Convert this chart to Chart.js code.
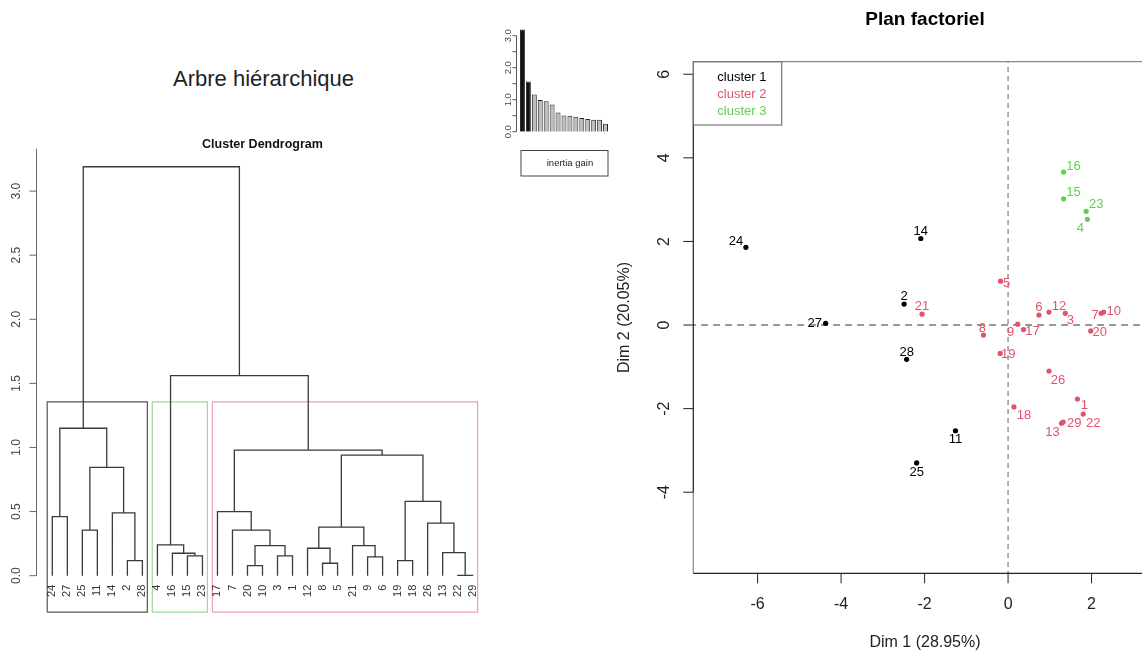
<!DOCTYPE html>
<html>
<head>
<meta charset="utf-8">
<script src="https://cdn.jsdelivr.net/npm/chart.js@4.4.0/dist/chart.umd.min.js"></script>
<style>
  html, body { margin: 0; padding: 0; background: #fff; overflow: hidden; }
  #page { position: relative; width: 1142px; height: 654px; overflow: hidden;
          font-family: "Liberation Sans", Arial, sans-serif; }
  canvas { position: absolute; }
  #arbre { position: absolute; left: 0; width: 527px; top: 66px; text-align: center;
           font-size: 22px; line-height: 26px; color: #222; }
</style>
</head>
<body>
<div id="page">
  <div id="arbre">Arbre hiérarchique</div>
  <canvas id="dendro" width="500" height="500" style="left:0;top:130px"></canvas>
  <canvas id="gain" width="150" height="190" style="left:480px;top:0"></canvas>
  <canvas id="plan" width="600" height="654" style="left:580px;top:0"></canvas>
</div>
<script>
const FONT = '"Liberation Sans", Arial, sans-serif';

// ---- dendrogram (hclust style: negative = individual, positive = earlier merge)
const leafOrder = [24, 27, 25, 11, 14, 2, 28, 4, 16, 15, 23, 17, 7, 20, 10, 3, 1, 12, 8, 5, 21, 9, 6, 19, 18, 26, 13, 22, 29];
const mergeLeft = [-22, -20, -8, -2, -19, -9, -3, -15, -16, -13, -12, 2, -21, -4, -25, -7, 11, -26, -24, -14, -17, 5, 15, 17, 21, 19, 14, 26];
const mergeRight = [-29, -10, -5, -28, -18, -6, -1, -23, 8, 1, 3, 7, 6, 9, -11, 12, 13, 10, -27, 4, 16, 18, 20, 22, 24, 23, 25, 27];
const mergeHeight = [0.003, 0.078, 0.097, 0.117, 0.117, 0.146, 0.154, 0.154, 0.175, 0.18, 0.214, 0.234, 0.234, 0.24,
  0.356, 0.356, 0.378, 0.41, 0.46, 0.49, 0.50, 0.58, 0.845, 0.94, 0.98, 1.15, 1.56, 3.19];
const clusterSizes = [7, 4, 18];
const dendroTicks = [0, 0.5, 1, 1.5, 2, 2.5, 3];

// ---- inertia gain bars
const gainLabels = ["1", "2", "3", "4", "5", "6", "7", "8", "9", "10", "11", "12", "13", "14", "15"];
const inertiaGain = [3.19, 1.57, 1.16, 0.99, 0.95, 0.85, 0.6, 0.51, 0.5, 0.47, 0.43, 0.4, 0.37, 0.37, 0.25];
const gainTicks = [0, 0.5, 1, 1.5, 2, 2.5, 3];
const gainTickLabels = ["0.0", "", "1.0", "", "2.0", "", "3.0"];

// ---- factor map
const clusterNames = ["cluster 1", "cluster 2", "cluster 3"];
const cluster1Ids = [2, 11, 14, 24, 25, 27, 28];
const cluster1Dim1 = [-2.49, -1.26, -2.09, -6.28, -2.19, -4.37, -2.43];
const cluster1Dim2 = [0.50, -2.53, 2.07, 1.86, -3.30, 0.04, -0.82];
const cluster2Ids = [1, 3, 5, 6, 7, 8, 9, 10, 12, 13, 17, 18, 19, 20, 21, 22, 26, 29];
const cluster2Dim1 = [1.66, 1.37, -0.18, 0.74, 2.23, -0.59, 0.23, 2.29, 0.98, 1.28, 0.37, 0.14, -0.19, 1.98, -2.06, 1.80, 0.98, 1.32];
const cluster2Dim2 = [-1.77, 0.28, 1.05, 0.24, 0.28, -0.24, 0.02, 0.31, 0.31, -2.35, -0.11, -1.96, -0.68, -0.14, 0.26, -2.13, -1.10, -2.32];
const cluster3Ids = [4, 15, 16, 23];
const cluster3Dim1 = [1.90, 1.33, 1.33, 1.87];
const cluster3Dim2 = [2.53, 3.02, 3.66, 2.72];
const dim1Ticks = [-6, -4, -2, 0, 2];
const dim2Ticks = [-4, -2, 0, 2, 4, 6];

const clusterColors = ["#000000", "#DF536B", "#61D04F"];

// label placement around each point (px), like R's autoLab result
const labelOffset = {
  24: [-10, -6], 27: [-11, 0], 14: [0, -7], 2: [0, -8], 28: [0, -7], 11: [0, 9], 25: [0, 9],
  16: [10, -6], 15: [10, -6], 23: [10, -7], 4: [-7, 9],
  5: [6, 2], 21: [0, -8], 6: [0, -8], 12: [10, -6], 3: [5, 7], 7: [-6, 2], 10: [10, -1],
  20: [9, 2], 8: [-1, -7], 9: [-7, 8], 17: [9, 2], 19: [8, 1], 26: [9, 9], 18: [10, 8],
  1: [7, 6], 22: [10, 9], 29: [11, 1], 13: [-9, 9],
};

function vtext(ctx, txt, x, y, align) {
  ctx.save();
  ctx.translate(x, y);
  ctx.rotate(-Math.PI / 2);
  ctx.textAlign = align || "center";
  ctx.textBaseline = "middle";
  ctx.fillText(txt, 0, 0);
  ctx.restore();
}

function line(ctx, x1, y1, x2, y2) {
  ctx.beginPath();
  ctx.moveTo(x1, y1);
  ctx.lineTo(x2, y2);
  ctx.stroke();
}

const baseOptions = {
  responsive: false,
  animation: false,
  events: [],
  plugins: { legend: { display: false }, tooltip: { enabled: false } },
};

// ================= dendrogram =================
const leafPos = {};
leafOrder.forEach((id, i) => (leafPos[id] = i + 1));
const nodeX = [];
const nodeY = [];
function childPos(c) {
  return c < 0 ? { x: leafPos[-c], y: 0 } : { x: nodeX[c - 1], y: nodeY[c - 1] };
}
const segs = [];
mergeLeft.forEach((l, i) => {
  const a = childPos(l);
  const b = childPos(mergeRight[i]);
  const h = mergeHeight[i];
  nodeX[i] = (a.x + b.x) / 2;
  nodeY[i] = h;
  segs.push({ x: a.x, y: a.y }, { x: a.x, y: h }, { x: b.x, y: h }, { x: b.x, y: b.y }, { x: b.x, y: null });
});

const dendroMin = -0.285;
const sortedH = mergeHeight.slice().sort((a, b) => b - a);
const k = clusterSizes.length;
const rectTop = (sortedH[k - 2] + sortedH[k - 1]) / 2;
const rectColors = ["#555555", "#9fdc96", "#ef9dab"];
let start = 0;
const rectSets = clusterSizes.map((n, i) => {
  const x0 = start + 0.66;
  const x1 = start + n + 0.33;
  start += n;
  return {
    data: [{ x: x0, y: dendroMin }, { x: x0, y: rectTop }, { x: x1, y: rectTop }, { x: x1, y: dendroMin }, { x: x0, y: dendroMin }],
    showLine: true, borderColor: rectColors[i], borderWidth: 1.2, pointRadius: 0, clip: false,
  };
});

const dendroDecor = {
  id: "dendroDecor",
  afterDraw(chart) {
    const { ctx, chartArea } = chart;
    const xs = chart.scales.x;
    const ys = chart.scales.y;
    const left = chartArea.left + 1;
    ctx.save();
    ctx.strokeStyle = "#666";
    ctx.lineWidth = 1;
    line(ctx, left, ys.getPixelForValue(0), left, chartArea.top);
    ctx.fillStyle = "#444";
    ctx.font = "12px " + FONT;
    ys.ticks.forEach((t) => {
      const py = ys.getPixelForValue(t.value);
      line(ctx, left - 7, py, left, py);
      vtext(ctx, t.value.toFixed(1), 16.5, py);
    });
    ctx.fillStyle = "#333";
    ctx.font = "11px " + FONT;
    leafOrder.forEach((id, i) => {
      vtext(ctx, String(id), xs.getPixelForValue(i + 1), ys.getPixelForValue(0) + 9, "right");
    });
    ctx.fillStyle = "#111";
    ctx.font = "bold 12.5px " + FONT;
    ctx.textAlign = "center";
    ctx.textBaseline = "middle";
    ctx.fillText("Cluster Dendrogram", (chartArea.left + chartArea.right) / 2, 15);
    ctx.restore();
  },
};

new Chart(document.getElementById("dendro"), {
  type: "scatter",
  data: {
    datasets: [
      { data: segs, showLine: true, spanGaps: false, borderColor: "#3a3a3a", borderWidth: 1.3, pointRadius: 0, clip: false },
      ...rectSets,
    ],
  },
  options: {
    ...baseOptions,
    layout: { padding: { left: 35.5, right: 10.5, top: 18.8, bottom: 17.8 } },
    scales: {
      x: { type: "linear", display: false, min: -0.12, max: 30.12 },
      y: {
        type: "linear", display: false, min: dendroMin, max: 3.33,
        afterBuildTicks: (s) => { s.ticks = dendroTicks.map((v) => ({ value: v })); },
      },
    },
  },
  plugins: [dendroDecor],
});

// ================= inertia gain =================
const gainDecor = {
  id: "gainDecor",
  afterDraw(chart) {
    const { ctx, chartArea } = chart;
    const ys = chart.scales.y;
    const ax = chartArea.left - 3;
    ctx.save();
    ctx.strokeStyle = "#555";
    ctx.lineWidth = 1;
    line(ctx, ax, ys.getPixelForValue(0), ax, ys.getPixelForValue(3));
    ctx.fillStyle = "#444";
    ctx.font = "9.5px " + FONT;
    ys.ticks.forEach((t, i) => {
      const py = ys.getPixelForValue(t.value);
      line(ctx, ax - 4, py, ax, py);
      if (gainTickLabels[i]) vtext(ctx, gainTickLabels[i], 28, py);
    });
    ctx.strokeStyle = "#444";
    ctx.strokeRect(41, 150.5, 87, 25.5);
    ctx.fillStyle = "#222";
    ctx.textAlign = "center";
    ctx.textBaseline = "middle";
    ctx.fillText("inertia gain", 90, 163.5);
    ctx.restore();
  },
};

new Chart(document.getElementById("gain"), {
  type: "bar",
  data: {
    labels: gainLabels,
    datasets: [{
      data: inertiaGain,
      backgroundColor: inertiaGain.map((v, i) => (i < k - 1 ? "#111111" : "#bebebe")),
      borderColor: "#2a2a2a",
      borderWidth: 1,
      barPercentage: 0.833,
      categoryPercentage: 1,
    }],
  },
  options: {
    ...baseOptions,
    layout: { padding: { left: 39.5, right: 21.5, top: 26.1, bottom: 58.3 } },
    scales: {
      x: { display: false },
      y: {
        display: false, min: 0, max: 3.3,
        afterBuildTicks: (s) => { s.ticks = gainTicks.map((v) => ({ value: v })); },
      },
    },
  },
  plugins: [gainDecor],
});

// ================= plan factoriel =================
const clusterIds = [cluster1Ids, cluster2Ids, cluster3Ids];
const clusterDim1 = [cluster1Dim1, cluster2Dim1, cluster3Dim1];
const clusterDim2 = [cluster1Dim2, cluster2Dim2, cluster3Dim2];

const pointSets = clusterNames.map((name, c) => ({
  label: name,
  data: clusterIds[c].map((id, i) => ({ x: clusterDim1[c][i], y: clusterDim2[c][i], id })),
  backgroundColor: clusterColors[c],
  borderWidth: 0,
  pointRadius: 2.6,
  order: 0,
}));

const planDecor = {
  id: "planDecor",
  afterDraw(chart) {
    const { ctx, chartArea } = chart;
    const xs = chart.scales.x;
    const ys = chart.scales.y;
    const { left, top, right, bottom } = chartArea;
    ctx.save();
    // box
    ctx.lineWidth = 1.2;
    ctx.strokeStyle = "#8a8a8a";
    line(ctx, left, bottom, left, top);
    line(ctx, left, top, right, top);
    line(ctx, right, top, right, bottom);
    ctx.strokeStyle = "#222";
    line(ctx, left, bottom, right, bottom);
    // y axis
    ctx.lineWidth = 1;
    line(ctx, left, ys.getPixelForValue(dim2Ticks[dim2Ticks.length - 1]), left, ys.getPixelForValue(dim2Ticks[0]));
    ctx.fillStyle = "#222";
    ctx.font = "16px " + FONT;
    ys.ticks.forEach((t) => {
      const py = ys.getPixelForValue(t.value);
      line(ctx, left - 10, py, left, py);
      vtext(ctx, String(t.value), 85, py);
    });
    // x axis
    ctx.textAlign = "center";
    ctx.textBaseline = "middle";
    xs.ticks.forEach((t) => {
      const px = xs.getPixelForValue(t.value);
      line(ctx, px, bottom, px, bottom + 10);
      ctx.fillText(String(t.value), px, 605);
    });
    ctx.fillText("Dim 1 (28.95%)", (left + right) / 2, 643);
    vtext(ctx, "Dim 2 (20.05%)", 45, (top + bottom) / 2);
    ctx.font = "bold 19px " + FONT;
    ctx.fillStyle = "#000";
    ctx.fillText("Plan factoriel", (left + right) / 2, 20);
    // legend
    ctx.lineWidth = 1.2;
    ctx.strokeStyle = "#777";
    ctx.strokeRect(left, top, 88.4, 63.3);
    ctx.font = "13px " + FONT;
    ctx.textAlign = "left";
    clusterNames.forEach((name, c) => {
      ctx.fillStyle = clusterColors[c];
      ctx.fillText(name, left + 24, top + 16 + c * 16.7);
    });
    // point labels
    ctx.textAlign = "center";
    chart.data.datasets.forEach((ds, di) => {
      if (ds.order !== 0) return;
      const meta = chart.getDatasetMeta(di);
      ctx.fillStyle = ds.backgroundColor;
      meta.data.forEach((el, i) => {
        const id = ds.data[i].id;
        const off = labelOffset[id] || [0, -7];
        ctx.fillText(String(id), el.x + off[0], el.y + off[1]);
      });
    });
    ctx.restore();
  },
};

new Chart(document.getElementById("plan"), {
  type: "scatter",
  data: {
    datasets: [
      ...pointSets,
      { data: [{ x: -20, y: 0 }, { x: 20, y: 0 }], showLine: true, borderColor: "#333", borderWidth: 1.2,
        borderDash: [7, 5], pointRadius: 0, order: 1 },
      { data: [{ x: 0, y: -20 }, { x: 0, y: 20 }], showLine: true, borderColor: "#a8a8a8", borderWidth: 1.8,
        borderDash: [5, 4], pointRadius: 0, order: 1 },
    ],
  },
  options: {
    ...baseOptions,
    layout: { padding: { left: 113.3, right: 23.3, top: 61.7, bottom: 80.7 } },
    scales: {
      x: {
        type: "linear", display: false, min: -7.54, max: 3.56,
        afterBuildTicks: (s) => { s.ticks = dim1Ticks.map((v) => ({ value: v })); },
      },
      y: {
        type: "linear", display: false, min: -5.94, max: 6.30,
        afterBuildTicks: (s) => { s.ticks = dim2Ticks.map((v) => ({ value: v })); },
      },
    },
  },
  plugins: [planDecor],
});
</script>
</body>
</html>
